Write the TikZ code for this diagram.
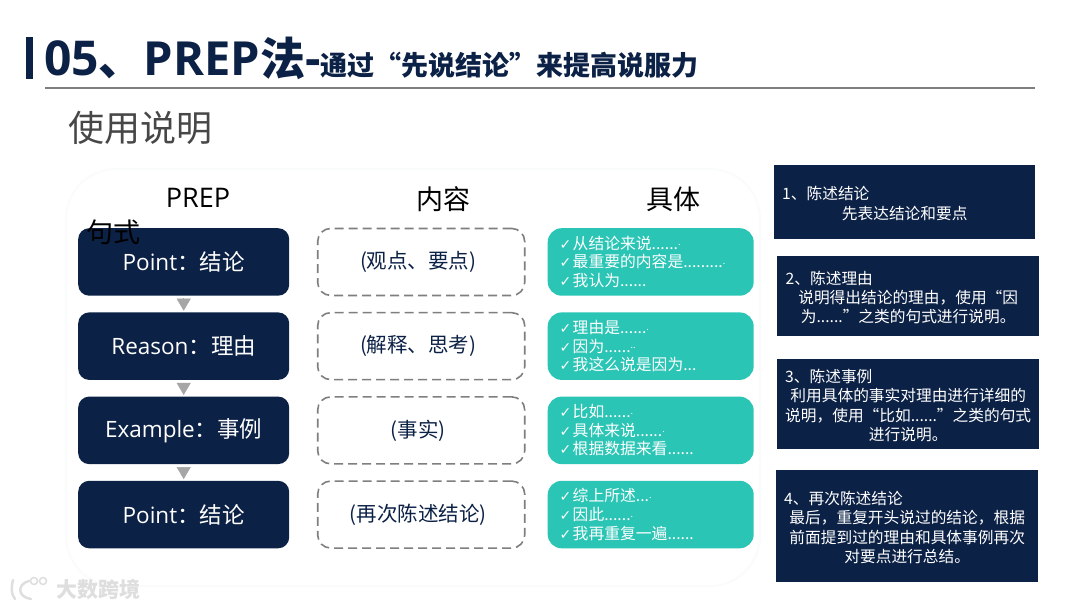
\documentclass[tikz,border=0pt]{standalone}
\usepackage{fontspec}
\setmainfont{Noto Sans CJK SC}
\newfontfamily\latinfont{Open Sans}
\newfontfamily\tickfont{DejaVu Sans}
\usepackage{xcolor}
\usepackage{tikz}
\usetikzlibrary{
  arrows.meta,
  positioning
}
\definecolor{PrepNavy}{HTML}{0C2146}
\definecolor{PrepTeal}{HTML}{2AC5B5}
\definecolor{PrepGrey}{HTML}{A6A6A6}
\definecolor{PrepDash}{HTML}{7F7F7F}
\definecolor{PrepPanel}{HTML}{FAFBFB}
\definecolor{PrepMark}{HTML}{DEDEDE}
\newcommand{\tick}{\makebox[13pt][l]{\tickfont\fontsize{14}{14}\selectfont ✓}}
\newcommand{\middot}{\raisebox{3.5pt}{\fontsize{9}{9}\selectfont .}}
\newcommand{\firstline}[1]{\makebox[\linewidth][l]{\rule{0pt}{16pt}#1}}
\newcommand{\viewtext}[1]{\rule{0pt}{17pt}#1\hspace*{6pt}}
\tikzset{
  stepbox/.style={fill=PrepNavy,rounded corners=11pt,minimum width=211pt,minimum height=67.5pt,
    inner sep=0pt,text=white,font=\fontsize{22.5}{26}\selectfont},
  dashbox/.style={draw=PrepDash,dashed,dash pattern=on 9pt off 5pt,line width=1.6pt,rounded corners=13pt,
    minimum width=207pt,minimum height=67pt,inner sep=0pt,text=PrepNavy,font=\fontsize{20.5}{24}\selectfont},
  listbox/.style={fill=PrepTeal,rounded corners=14pt,minimum width=206pt,minimum height=67.5pt,
    inner sep=0pt,inner xsep=12pt,text=white,text width=182pt,align=left,font=\fontsize{15.8}{18.6}\selectfont},
  notebox/.style={fill=PrepNavy,anchor=north west,inner sep=0pt,text=white,align=center,
    font=\fontsize{15.7}{19.2}\selectfont},
  headtext/.style={text=black,inner sep=0pt,font=\fontsize{27}{32}\selectfont},
  nextarrow/.style={draw=PrepGrey,line width=0.5pt,shorten >=1.5pt,shorten <=2.5pt,
    -{Triangle[length=12pt,width=14pt,fill=PrepGrey]}}
}
\begin{document}
\begin{tikzpicture}[x=1pt,y=-1pt]
  \useasboundingbox (0,0) rectangle (1080,608);
  \fill[white] (0,0) rectangle (1080,608);

  \fill[PrepNavy] (26,37) rectangle (33,79);
  \node[anchor=west,inner sep=0pt,text=PrepNavy,font=\bfseries] (title) at (44,58)
    {\fontsize{45}{50}\selectfont{\latinfont\fontsize{48}{50}\selectfont 05}、{\latinfont\fontsize{47}{50}\selectfont PREP}法{\latinfont\fontsize{48}{50}\selectfont -}\fontsize{27}{30}\selectfont 通过“先说结论”来提高说服力};
  \coordinate (rulea) at (45,88);
  \coordinate (ruleb) at (1035,88);
  \draw[PrepDash,line width=1.5pt] (rulea) -- (ruleb);
  \node[anchor=west,inner sep=0pt,text=black!72,font=\fontsize{36}{40}\selectfont] (usage) at (68,128) {使用说明};

  \draw[PrepPanel,line width=2pt,fill=white,rounded corners=50pt] (66,169) rectangle (760,586);

  \node[stepbox,anchor=north west] (pointa) at (78,228) {{\latinfont Point}：结论};
  \node[stepbox,below=16.3pt of pointa] (reason) {{\latinfont Reason}：理由};
  \node[stepbox,below=16.3pt of reason] (example) {{\latinfont Example}：事例};
  \node[stepbox,below=16.3pt of example] (pointb) {{\latinfont Point}：结论};
  \draw[nextarrow] (pointa) -- (reason);
  \draw[nextarrow] (reason) -- (example);
  \draw[nextarrow] (example) -- (pointb);

  \node[dashbox,right=27.5pt of pointa] (viewa) {\viewtext{(观点、要点)}};
  \node[dashbox,right=27.5pt of reason] (viewb) {\viewtext{(解释、思考)}};
  \node[dashbox,right=27.5pt of example] (viewc) {\viewtext{(事实)}};
  \node[dashbox,right=27.5pt of pointb] (viewd) {\viewtext{(再次陈述结论)}};

  \node[listbox,right=22pt of viewa] (lista) {\tick 从结论来说......\middot\\\tick 最重要的内容是.........\middot\\\tick 我认为......};
  \node[listbox,right=22pt of viewb] (listb) {\tick 理由是......\middot\\\tick 因为......\middot\middot\\\tick 我这么说是因为...};
  \node[listbox,right=22pt of viewc] (listc) {\tick 比如......\middot\\\tick 具体来说......\middot\\\tick 根据数据来看......};
  \node[listbox,right=22pt of viewd] (listd) {\tick 综上所述...\middot\\\tick 因此......\middot\\\tick 我再重复一遍......};

  \node[headtext] (headprep) at (198,198) {\latinfont PREP};
  \node[headtext] (headform) at (113,232) {句式};
  \node[headtext,above=16pt of viewa,xshift=22pt] (headview) {内容};
  \node[headtext,above=16pt of lista,xshift=23pt] (headlist) {具体};

  \node[notebox,minimum width=261pt,minimum height=74pt,text width=245pt] (notea) at (774,165)
    {\firstline{1、陈述结论}\\先表达结论和要点};
  \node[notebox,minimum width=262pt,minimum height=80pt,text width=245pt] (noteb) at (777,256)
    {\firstline{2、陈述理由}\\说明得出结论的理由，使用“因\\为......”之类的句式进行说明。};
  \node[notebox,minimum width=262pt,minimum height=90pt,text width=246pt] (notec) at (777,359)
    {\firstline{3、陈述事例}\\利用具体的事实对理由进行详细的\\说明，使用“比如......”之类的句式\\进行说明。};
  \node[notebox,minimum width=262pt,minimum height=112pt,text width=246pt] (noted) at (776,470)
    {\firstline{4、再次陈述结论}\\最后，重复开头说过的结论，根据\\前面提到过的理由和具体事例再次\\对要点进行总结。};

  \draw[PrepMark,line width=2.4pt,line cap=round] (13,580) .. controls (11,588) and (11,594) .. (15,599);
  \draw[PrepMark,line width=2.4pt,line cap=round] (29,581) .. controls (17,584) and (17,597) .. (31,599);
  \draw[PrepMark,line width=1.5pt] (34,581) circle (3.5) (43,581) circle (3.5);
  \node[anchor=west,inner sep=0pt,text=PrepMark,font=\bfseries\fontsize{21}{24}\selectfont] (brand) at (56,589) {大数跨境};
\end{tikzpicture}
\end{document}
